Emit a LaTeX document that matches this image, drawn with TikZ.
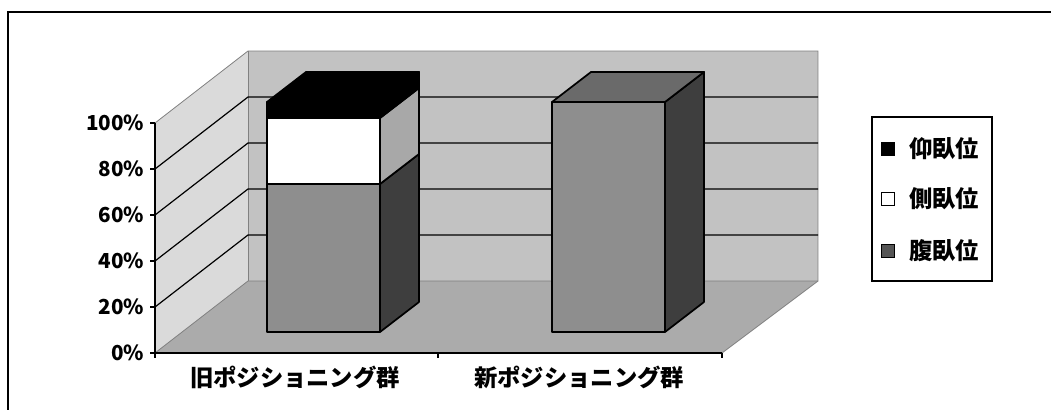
\documentclass[tikz,border=0pt]{standalone}
\usepackage{fontspec}
\setmainfont{Noto Sans CJK JP}
\usetikzlibrary{positioning}
\definecolor{wallside}{HTML}{DADADA}
\definecolor{wallback}{HTML}{C2C2C2}
\definecolor{floorc}{HTML}{ABABAB}
\definecolor{pronefront}{HTML}{8E8E8E}
\definecolor{proneside}{HTML}{3E3E3E}
\definecolor{pronetop}{HTML}{6A6A6A}
\definecolor{lateralside}{HTML}{A8A8A8}
\definecolor{pronekey}{HTML}{555555}
% one slice of a bar: front face and right side
\newcommand{\cuboidpart}[5]{%
  \filldraw[block, fill=#5] (#1+113,#2) -- (#1+152,#2-30) -- (#1+152,#3-30) -- (#1+113,#3) -- cycle;
  \filldraw[block, fill=#4] (#1,#2) rectangle (#1+113,#3);
}
\newcommand{\cuboidtop}[3]{%
  \filldraw[block, fill=#3] (#1,#2) -- (#1+39,#2-30) -- (#1+152,#2-30) -- (#1+113,#2) -- cycle;
}
\begin{document}
\begin{tikzpicture}[x=0.75pt,y=-0.75pt,
  wall/.style={draw=gray, line width=0.6pt},
  grid/.style={black, line width=0.9pt},
  block/.style={draw=black, line width=1.3pt, line join=round},
  axislabel/.style={anchor=east, font=\bfseries\fontsize{15.5}{18}\selectfont},
  catlabel/.style={font=\bfseries\fontsize{17.5}{20}\selectfont},
  key/.style={draw=black, line width=0.9pt, minimum size=9.75pt, inner sep=0pt}]
\useasboundingbox (0,0) rectangle (1051,410);
\draw[line width=1pt] (1051,12) -- (8,12) -- (8,410);
% walls and floor
\fill[wallside] (155,353) -- (155,123) -- (248,51) -- (248,281) -- cycle;
\fill[wallback] (248,51) rectangle (818,281);
\fill[floorc] (155,353) -- (722,353) -- (818,281) -- (248,281) -- cycle;
\draw[wall] (155,123) -- (248,51) -- (818,51) -- (818,281) -- (722,353);
\draw[wall] (155,353) -- (248,281) -- (818,281);
\draw[wall] (248,51) -- (248,281);
% gridlines
\foreach \k in {1,...,4}
  \draw[grid] (155,353-46*\k) -- (248,281-46*\k) -- (818,281-46*\k);
% axes
\draw[line width=1.3pt] (155,123) -- (155,353) -- (722,353);
\foreach \p [count=\k from 0] in {0,20,40,60,80,100} {
  \draw[line width=0.9pt] (150,353-46*\k) -- (155,353-46*\k);
  \node[axislabel] at (149,353-46*\k) {\p\%};
}
\foreach \x in {155,438,722}
  \draw[line width=0.9pt] (\x,353) -- (\x,358);
% old group
\cuboidpart{267}{332}{184}{pronefront}{proneside}
\cuboidpart{267}{184}{118}{white}{lateralside}
\cuboidpart{267}{118}{102}{black}{black}
\cuboidtop{267}{102}{black}
% new group
\cuboidpart{552}{332}{102}{pronefront}{proneside}
\cuboidtop{552}{102}{pronetop}
\node[catlabel] (oldgrp) at (295,377) {旧ポジショニング群};
\node[catlabel] (newgrp) at (579,377) {新ポジショニング群};
% legend
\draw[line width=0.9pt] (872,117) rectangle (992,281);
\node[key, fill=black] (kSupine) at (888,149) {};
\node[catlabel, right=7pt of kSupine] (lSupine) {仰臥位};
\node[key, fill=white] (kLateral) at (888,199) {};
\node[catlabel, right=7pt of kLateral] (lLateral) {側臥位};
\node[key, fill=pronekey] (kProne) at (888,251) {};
\node[catlabel, right=7pt of kProne] (lProne) {腹臥位};
\end{tikzpicture}
\end{document}
